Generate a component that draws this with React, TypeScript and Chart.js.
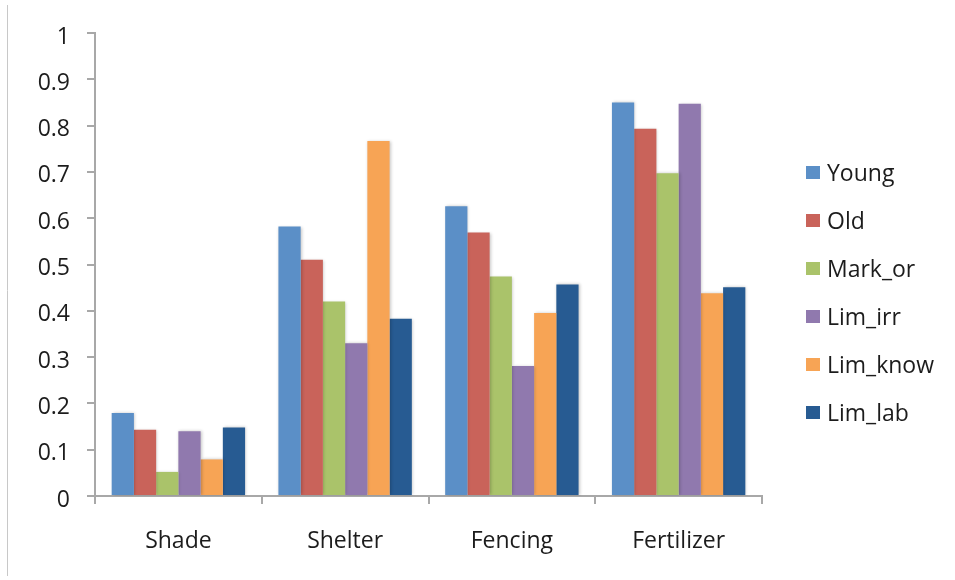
import React, { useEffect, useRef } from "react";
import { Chart, registerables } from "chart.js";

Chart.register(...registerables);

// Categories along the x axis
const categories = ["Shade", "Shelter", "Fencing", "Fertilizer"];

// Series (one bar per category each)
const seriesNames = ["Young", "Old", "Mark_or", "Lim_irr", "Lim_know", "Lim_lab"];
const young = [0.179, 0.582, 0.626, 0.85];
const old = [0.143, 0.51, 0.569, 0.793];
const markOr = [0.052, 0.42, 0.474, 0.697];
const limIrr = [0.14, 0.33, 0.281, 0.847];
const limKnow = [0.079, 0.767, 0.395, 0.438];
const limLab = [0.148, 0.383, 0.457, 0.451];
const seriesValues = [young, old, markOr, limIrr, limKnow, limLab];

const seriesColors = ["#5B8FC7", "#C9635A", "#AAC36A", "#9079AE", "#F7A455", "#275B92"];

// Value axis range
const yMin = 0;
const yMax = 1;
const yStep = 0.1;

const FONT = "'Open Sans', 'DejaVu Sans', sans-serif";
const TEXT_COLOR = "#1c1c1c";
const AXIS_COLOR = "#a8a8a8";

// Legend drawn at the right of the plot, one row per series
const sideLegend = {
  id: "sideLegend",
  afterDraw(chart: any) {
    const { ctx, chartArea } = chart;
    const boxX = chartArea.right + 44;
    const firstRow = chartArea.top + 139.5;
    const rowStep = 48;
    ctx.save();
    ctx.font = `23px ${FONT}`;
    ctx.textBaseline = "middle";
    ctx.textAlign = "left";
    chart.data.datasets.forEach((ds: any, i: number) => {
      const cy = firstRow + i * rowStep;
      ctx.fillStyle = ds.backgroundColor;
      ctx.fillRect(boxX, cy - 6.5, 14, 13);
      ctx.fillStyle = TEXT_COLOR;
      ctx.fillText(ds.label, boxX + 21, cy + 1.5);
    });
    ctx.restore();
  },
};

// Soft drop shadow beneath the bars
const barShadow = {
  id: "barShadow",
  beforeDatasetsDraw(chart: any) {
    const { ctx } = chart;
    ctx.save();
    ctx.shadowColor = "rgba(0,0,0,0.22)";
    ctx.shadowBlur = 3;
    ctx.shadowOffsetX = 1;
    ctx.shadowOffsetY = 0;
  },
  afterDatasetsDraw(chart: any) {
    chart.ctx.restore();
  },
};

// Thin frame line along the left edge
const leftFrame = {
  id: "leftFrame",
  beforeDraw(chart: any) {
    const { ctx } = chart;
    ctx.save();
    ctx.strokeStyle = "#c8c8c8";
    ctx.lineWidth = 1;
    ctx.beginPath();
    ctx.moveTo(7.5, 5);
    ctx.lineTo(7.5, 576);
    ctx.stroke();
    ctx.restore();
  },
};

export default function App() {
  const canvasRef = useRef<HTMLCanvasElement | null>(null);

  useEffect(() => {
    if (!canvasRef.current) return;
    const chart = new Chart(canvasRef.current, {
      type: "bar",
      data: {
        labels: categories,
        datasets: seriesNames.map((name, i) => ({
          label: name,
          data: seriesValues[i],
          backgroundColor: seriesColors[i],
          borderWidth: 0,
          categoryPercentage: 0.8,
          barPercentage: 1.0,
        })),
      },
      options: {
        animation: false,
        responsive: true,
        maintainAspectRatio: false,
        layout: { padding: { left: 0, right: 193, top: 33, bottom: 0 } },
        plugins: {
          legend: { display: false },
          tooltip: { enabled: false },
        },
        scales: {
          x: {
            offset: true,
            grid: {
              offset: true,
              display: true,
              drawOnChartArea: false,
              drawTicks: true,
              tickLength: 8,
              color: AXIS_COLOR,
              lineWidth: 2,
            },
            border: { display: true, color: AXIS_COLOR, width: 2 },
            ticks: {
              color: TEXT_COLOR,
              font: { family: FONT, size: 23 },
              padding: 24,
              maxRotation: 0,
            },
            afterFit(scale: any) {
              scale.height = 84;
            },
          },
          y: {
            min: yMin,
            max: yMax,
            grid: {
              display: true,
              drawOnChartArea: false,
              drawTicks: true,
              tickLength: 8,
              color: AXIS_COLOR,
              lineWidth: 2,
            },
            border: { display: true, color: AXIS_COLOR, width: 2 },
            ticks: {
              stepSize: yStep,
              color: TEXT_COLOR,
              font: { family: FONT, size: 23 },
              padding: 17,
              labelOffset: 4,
              callback: (v: any) => String(Math.round(Number(v) * 10) / 10),
            },
            afterFit(scale: any) {
              scale.width = 95;
            },
          },
        },
      },
      plugins: [sideLegend, barShadow, leftFrame],
    });
    return () => chart.destroy();
  }, []);

  return (
    <div style={{ position: "absolute", left: 0, top: 0, width: 955, height: 580, background: "#fff" }}>
      <canvas ref={canvasRef} />
    </div>
  );
}
